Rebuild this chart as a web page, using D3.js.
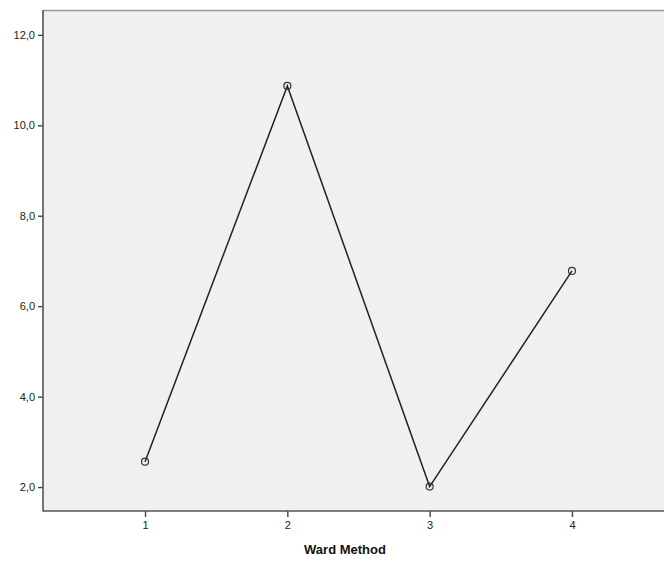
<!DOCTYPE html>
<html>
<head>
<meta charset="utf-8">
<script src="https://cdn.jsdelivr.net/npm/d3@7"></script>
<style>
  body { margin: 0; background: #fff; }
  svg { display: block; font-family: Arial, "Liberation Sans", sans-serif; }
</style>
</head>
<body>
<svg id="chart" width="664" height="562"></svg>
<script>
// cluster number vs. value
var clusters = [1, 2, 3, 4];
var values = [2.56, 10.87, 2.01, 6.78];
var yTicks = [2, 4, 6, 8, 10, 12];
var xTitle = "Ward Method";

var svg = d3.select("#chart");
var plotLeft = 43, plotTop = 10, plotRight = 674, plotBottom = 511;

var x = d3.scaleLinear().domain([0.283, 4.717]).range([plotLeft, plotRight]);
var y = d3.scaleLinear().domain([1.47, 12.55]).range([plotBottom, plotTop]);

// plot background
svg.append("rect")
	.attr("x", plotLeft).attr("y", plotTop)
	.attr("width", plotRight - plotLeft).attr("height", plotBottom - plotTop)
	.style("fill", "#f0f0f0");

// top border
svg.append("line")
	.attr("x1", plotLeft).attr("x2", plotRight)
	.attr("y1", plotTop + 0.5).attr("y2", plotTop + 0.5)
	.style("stroke", "#9a9a9a").style("stroke-width", 1.5);

var fmt = function(d){ return d3.format(".1f")(d).replace(".", ","); };

// y axis
var yAxis = svg.append("g")
	.attr("transform", "translate(" + plotLeft + ",0)")
	.call(d3.axisLeft(y).tickValues(yTicks).tickFormat(fmt).tickSize(5).tickPadding(3));
yAxis.select(".domain").remove();

// x axis
var xAxis = svg.append("g")
	.attr("transform", "translate(0," + plotBottom + ")")
	.call(d3.axisBottom(x).tickValues(clusters).tickFormat(d3.format("d")).tickSize(6).tickPadding(4));
xAxis.select(".domain").remove();

[yAxis, xAxis].forEach(function(g){
	g.selectAll("line").style("stroke", "#444").style("stroke-width", 1.4);
	g.selectAll("text").style("fill", "#222").style("font-size", "11px");
});

// axis lines
svg.append("line")
	.attr("x1", plotLeft).attr("x2", plotLeft)
	.attr("y1", plotTop).attr("y2", plotBottom + 0.5)
	.style("stroke", "#555").style("stroke-width", 1.6);
svg.append("line")
	.attr("x1", plotLeft).attr("x2", plotRight)
	.attr("y1", plotBottom).attr("y2", plotBottom)
	.style("stroke", "#555").style("stroke-width", 1.6);

// axis title
svg.append("text")
	.attr("x", 345).attr("y", 554)
	.attr("text-anchor", "middle")
	.style("font-weight", "bold").style("font-size", "13px").style("fill", "#111")
	.text(xTitle);

var points = clusters.map(function(c, i){ return {c: c, v: values[i]}; });

// line
svg.append("path")
	.datum(points)
	.attr("d", d3.line().x(function(d){ return x(d.c); }).y(function(d){ return y(d.v); }))
	.style("fill", "none").style("stroke", "#222").style("stroke-width", 1.5);

// markers
svg.selectAll(".marker")
	.data(points)
	.enter()
	.append("circle")
	.attr("class", "marker")
	.attr("cx", function(d){ return x(d.c); })
	.attr("cy", function(d){ return y(d.v); })
	.attr("r", 3.5)
	.style("fill", "none").style("stroke", "#333").style("stroke-width", 1.2);
</script>
</body>
</html>
